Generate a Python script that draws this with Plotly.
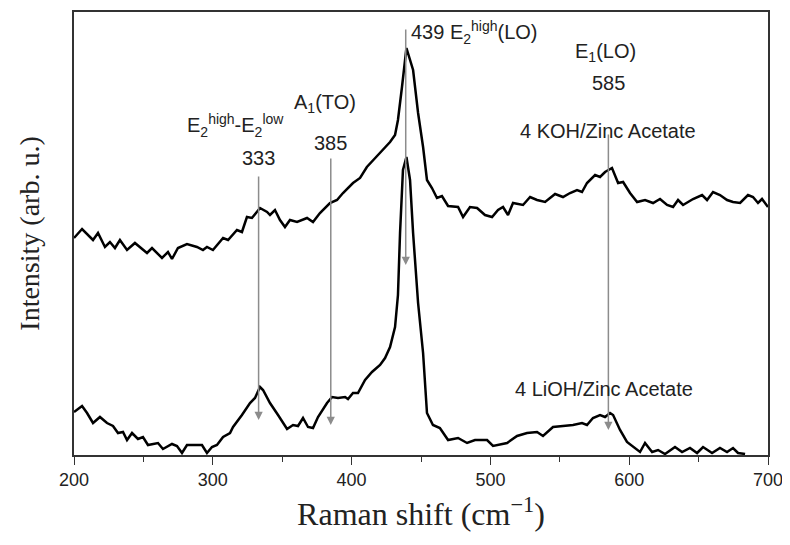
import plotly.graph_objects as go

# KOH / Zinc Acetate spectrum (upper)
koh_x = [200, 205.8, 213.7, 217.3, 222.3, 225.9, 229.5, 233.1, 238.2, 243.9, 252.6, 256.2, 263.4, 267.7,
         270.6, 274.9, 281.4, 288.6, 292.9, 295.8, 300.1, 307.4, 311.0, 317.4, 321.0, 324.6, 328.2, 334.0,
         339.1, 341.2, 344.8, 348.4, 352.0, 355.6, 360.7, 367.9, 372.2, 377.2, 384.4, 389.5, 393.8, 401.0,
         406.1, 411.0, 417.0, 422.6, 427.7, 431.3, 433.4, 436.3, 439.5, 444.3, 447.9, 451.5, 454.3, 457.9,
         461.5, 465.1, 469.5, 476.7, 480.3, 485.3, 490.4, 496.1, 501.2, 505.5, 509.1, 512.7, 516.3, 523.5,
         528.6, 533.6, 539.4, 546.6, 552.3, 557.4, 562.4, 566.0, 569.6, 575.4, 579.0, 582.6, 587.6, 592.0,
         595.6, 600.6, 605.7, 611.4, 617.2, 622.2, 627.3, 631.6, 635.2, 638.8, 646.0, 652.5, 656.1, 660.4,
         665.4, 670.5, 674.8, 679.9, 685.6, 689.2, 692.8, 695.7, 700]
koh_y = [217, 226, 215, 222, 208, 213, 207, 215, 205, 212, 202, 207, 197, 203,
         196, 207, 211, 208, 205, 208, 205, 217, 215, 225, 223, 238, 237, 247,
         243, 240, 245, 235, 228, 235, 233, 237, 233, 242, 252, 255, 262, 272,
         277, 288, 297, 305, 313, 320, 335, 368, 407, 385, 342, 308, 275, 267,
         257, 259, 249, 248, 238, 248, 247, 240, 238, 245, 248, 240, 252, 250,
         258, 255, 253, 261, 258, 262, 265, 263, 272, 280, 278, 283, 287, 272,
         273, 262, 253, 255, 252, 256, 250, 248, 255, 250, 256, 260, 255, 263,
         260, 255, 253, 252, 260, 258, 252, 256, 248]

# LiOH / Zinc Acetate spectrum (lower)
lioh_x = [200, 205.8, 209.4, 213.7, 218.7, 223.8, 228.1, 231.7, 235.3, 238.2, 241.8, 246.1, 249.7, 253.3,
          260.5, 264.1, 270.6, 274.2, 277.8, 281.4, 288.6, 292.2, 295.8, 299.4, 303.0, 307.4, 312.4, 314.6,
          321.0, 326.8, 330.4, 334.0, 336.2, 341.2, 347.0, 350.6, 353.5, 357.8, 361.4, 365.0, 368.6, 372.2,
          375.8, 382.3, 385.9, 390.2, 395.3, 397.4, 401.0, 404.6, 409.7, 414.7, 420.5, 424.1, 427.7, 431.3,
          433.4, 434.9, 437.0, 439.5, 442.1, 444.3, 447.9, 451.5, 454.3, 458.6, 463.6, 469.5, 476.7, 483.2,
          488.9, 497.6, 501.9, 512.0, 519.2, 526.4, 533.6, 537.9, 545.1, 552.3, 559.5, 566.0, 569.6, 573.9,
          579.0, 582.6, 586.2, 588.4, 593.4, 598.4, 602.8, 607.8, 611.4, 616.5, 620.8, 625.8, 633.0, 638.1,
          643.8, 648.9, 653.2, 659.7, 665.4, 670.5, 674.8, 678.4, 683.5]
lioh_y = [43, 49, 42, 32, 38, 32, 29, 22, 23, 15, 22, 16, 18, 10,
          12, 6, 11, 9, 2, 10, 10, 10, 2, 8, 10, 18, 22, 28,
          40, 52, 57, 68, 65, 52, 40, 32, 26, 30, 29, 37, 28, 27,
          38, 52, 58, 57, 58, 56, 62, 62, 75, 83, 90, 97, 108, 128,
          160, 222, 285, 298, 275, 222, 152, 102, 42, 30, 27, 15, 17, 12,
          15, 15, 9, 12, 19, 22, 23, 19, 28, 29, 30, 32, 30, 37,
          40, 38, 42, 40, 25, 13, 8, 3, 12, 3, 5, 1, 8, 3,
          7, 2, 8, 2, 7, 3, 7, 2, 1]

x_ticks = [200, 300, 400, 500, 600, 700]

# Peak markers: position, arrow tail height, arrow tip height
peak_pos = [333, 385, 439, 585]
peak_top = [280, 298, 427, 322]
peak_tip = [35, 30, 190, 25]

fig = go.Figure()
fig.add_trace(go.Scatter(x=koh_x, y=koh_y, mode="lines",
                         line=dict(color="black", width=2.5), showlegend=False))
fig.add_trace(go.Scatter(x=lioh_x, y=lioh_y, mode="lines",
                         line=dict(color="black", width=2.5), showlegend=False))

annotations = []
for p, t, tip in zip(peak_pos, peak_top, peak_tip):
    annotations.append(dict(x=p, y=tip, ax=p, ay=t, xref="x", yref="y", axref="x", ayref="y",
                            text="", showarrow=True, arrowhead=2, arrowsize=1.1, arrowwidth=1.5,
                            arrowcolor="#8c8c8c"))

sans = dict(family="Liberation Sans, Arial, sans-serif", size=20, color="#222")
labels = [
    ("E<sub>2</sub><sup>high</sup>-E<sub>2</sub><sup>low</sup>", 316, 330, "center"),
    ("333", 332.6, 297, "center"),
    ("A<sub>1</sub>(TO)", 381, 352, "center"),
    ("385", 385, 312, "center"),
    ("439 E<sub>2</sub><sup>high</sup>(LO)", 441.4, 423, "left"),
    ("E<sub>1</sub>(LO)", 583, 403, "center"),
    ("585", 584.8, 372, "center"),
    ("4 KOH/Zinc Acetate", 584.8, 324, "center"),
    ("4 LiOH/Zinc Acetate", 582, 66, "center"),
]
for txt, x, y, anc in labels:
    annotations.append(dict(x=x, y=y, xref="x", yref="y", text=txt, showarrow=False,
                            xanchor=anc, yanchor="middle", font=sans))

# page body adds an 8px offset; compensate and avoid scrollbars
fig.update_layout(
    width=782, height=524,
    margin=dict(l=66, r=22, t=4, b=77),
    paper_bgcolor="white", plot_bgcolor="white",
    annotations=annotations,
    xaxis=dict(range=[200, 700], tickvals=x_ticks, ticks="outside", ticklen=8, tickwidth=1.3,
               tickcolor="#333", showline=True, linecolor="#333", linewidth=1.5, mirror=True,
               showgrid=False, zeroline=False, automargin=False,
               tickfont=dict(family="Liberation Sans, Arial, sans-serif", size=18, color="#222"),
               minor=dict(dtick=50, ticks="outside", ticklen=5, tickwidth=1.3, tickcolor="#333"),
               title=dict(text="Raman shift (cm<sup>\u22121</sup>)", standoff=14,
                          font=dict(family="Liberation Serif, Times New Roman, serif", size=32, color="#222"))),
    yaxis=dict(range=[0, 443], showticklabels=False, ticks="", showline=True, linecolor="#333",
               linewidth=1.5, mirror=True, showgrid=False, zeroline=False, automargin=False,
               title=dict(text="Intensity (arb. u.)", standoff=24,
                          font=dict(family="Liberation Serif, Times New Roman, serif", size=28, color="#222"))),
)

fig.write_html("out.html")
